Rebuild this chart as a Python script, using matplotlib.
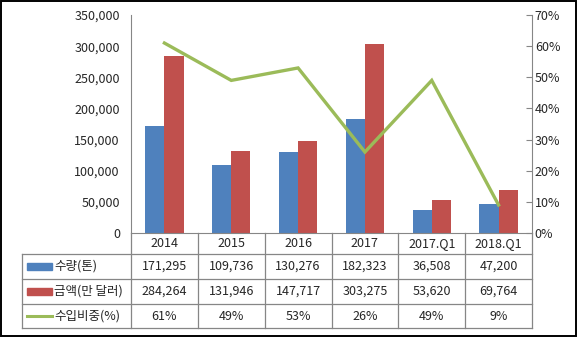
import matplotlib

matplotlib.use("Agg")
import matplotlib.pyplot as plt
from matplotlib.lines import Line2D
from matplotlib.patches import Rectangle
from matplotlib.ticker import FuncFormatter, MultipleLocator

plt.rcParams["font.family"] = ["Noto Sans CJK KR", "DejaVu Sans"]

# data
CATS = ["2014", "2015", "2016", "2017", "2017.Q1", "2018.Q1"]
QTY = [171295, 109736, 130276, 182323, 36508, 47200]        # 수량(톤)
AMT = [284264, 131946, 147717, 303275, 53620, 69764]        # 금액(만 달러)
SHARE = [61, 49, 53, 26, 49, 9]                              # 수입비중(%)
SERIES = ["수량(톤)", "금액(만 달러)", "수입비중(%)"]

C_QTY = "#4F81BD"
C_AMT = "#C0504D"
C_SHARE = "#9BBB59"
C_GRID = "#868686"
C_TXT = "#262626"
FS = 9

W, H = 577, 337
fig = plt.figure(figsize=(W / 100, H / 100), dpi=100)
# plot area in pixels: x 131..532, y 15..233
ax = fig.add_axes([131 / W, (H - 233) / H, 401 / W, 218 / H])
ax2 = ax.twinx()

xs = list(range(len(CATS)))
bw = 0.288
ax.bar([x - bw / 2 for x in xs], QTY, width=bw, color=C_QTY, zorder=2)
ax.bar([x + bw / 2 for x in xs], AMT, width=bw, color=C_AMT, zorder=2)
ax2.plot(xs, SHARE, color=C_SHARE, lw=2.4, zorder=3, solid_joinstyle="miter")

ax.set_xlim(-0.5, len(CATS) - 0.5)
ax.set_ylim(0, 350000)
ax.yaxis.set_major_locator(MultipleLocator(50000))
ax.yaxis.set_major_formatter(FuncFormatter(lambda v, _: f"{int(v):,}"))
ax2.set_ylim(0, 70)
ax2.yaxis.set_major_locator(MultipleLocator(10))
ax2.yaxis.set_major_formatter(FuncFormatter(lambda v, _: f"{int(v)}%"))

for a in (ax, ax2):
    for s in a.spines.values():
        s.set_visible(False)
    a.set_xticks([])
ax.spines["left"].set_visible(True)
ax.spines["left"].set_color(C_GRID)
ax2.spines["right"].set_visible(True)
ax2.spines["right"].set_color(C_GRID)
ax.spines["bottom"].set_visible(True)
ax.spines["bottom"].set_color(C_GRID)
ax.tick_params(axis="y", length=0, pad=8, labelsize=FS, labelcolor=C_TXT)
ax2.tick_params(axis="y", direction="in", length=4, color=C_GRID, pad=2,
                labelsize=FS, labelcolor=C_TXT)

# data table below the plot (y in axes fraction, x in data coords)
tr = ax.get_xaxis_transform()
ah = 218.0
row_y = [-(254 - 233) / ah, -(279 - 233) / ah, -(304 - 233) / ah, -(328 - 233) / ah]
left_x = -0.5 - 109 / 67.0
lkw = dict(color=C_GRID, lw=0.9, transform=tr, clip_on=False)

# horizontal lines
for y in row_y:
    ax.add_line(Line2D([left_x, len(CATS) - 0.5], [y, y], **lkw))
# vertical lines
for b in range(len(CATS) + 1):
    ax.add_line(Line2D([b - 0.5, b - 0.5], [0, row_y[-1]], **lkw))
ax.add_line(Line2D([left_x, left_x], [row_y[0], row_y[-1]], **lkw))

# header row (category labels)
for x, c in zip(xs, CATS):
    ax.text(x, row_y[0] / 2, c, ha="center", va="center", fontsize=FS,
            color=C_TXT, transform=tr, clip_on=False)

rows = [[f"{v:,}" for v in QTY], [f"{v:,}" for v in AMT], [f"{v}%" for v in SHARE]]
for i, vals in enumerate(rows):
    yc = (row_y[i] + row_y[i + 1]) / 2
    for x, v in zip(xs, vals):
        ax.text(x, yc, v, ha="center", va="center", fontsize=FS, color=C_TXT,
                transform=tr, clip_on=False)
    # legend key
    sx0 = left_x + 5 / 67.0
    sx1 = left_x + 30 / 67.0
    if i < 2:
        ax.add_patch(Rectangle((sx0, yc - 3.2 / ah), sx1 - sx0, 6.4 / ah,
                               color=[C_QTY, C_AMT][i], transform=tr, clip_on=False))
    else:
        ax.add_line(Line2D([sx0, sx1], [yc, yc], color=C_SHARE, lw=2.2,
                           transform=tr, clip_on=False))
    ax.text(left_x + 32 / 67.0, yc, SERIES[i], ha="left", va="center", fontsize=FS,
            color=C_TXT, transform=tr, clip_on=False)

# outer frame
fig.patches.append(Rectangle((1 / W, 1.5 / H), (W - 2.5) / W, (H - 2.5) / H,
                             fill=False, ec="black", lw=1.4, transform=fig.transFigure))

fig.savefig("out.png", dpi=100)
